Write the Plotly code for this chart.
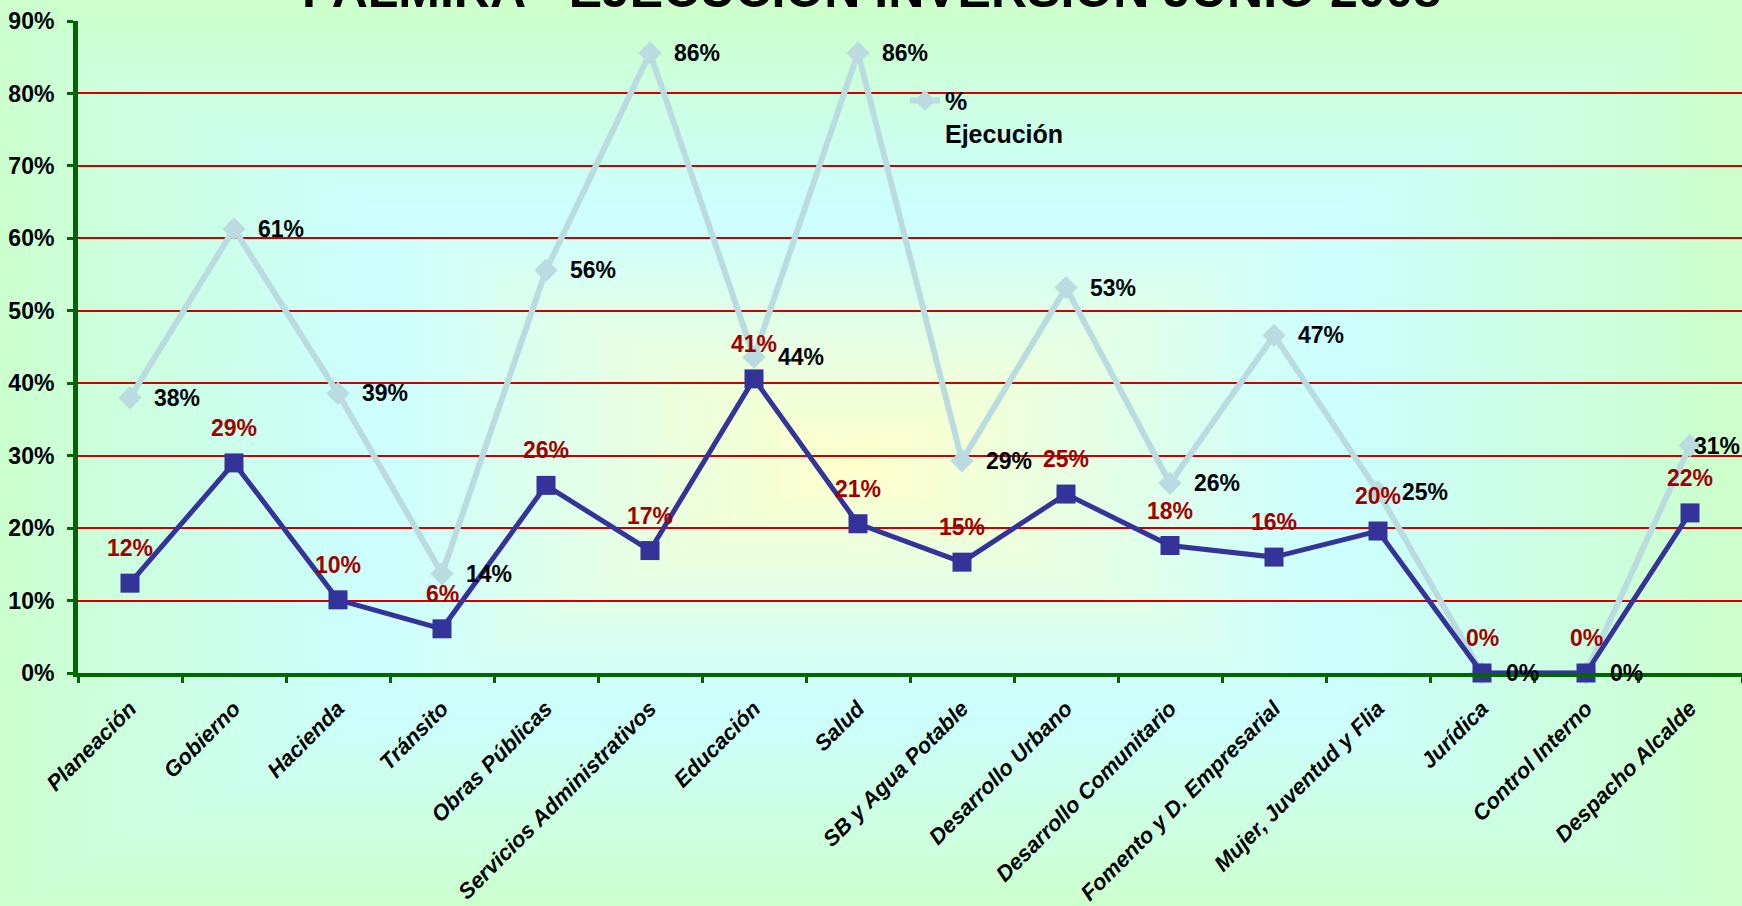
import base64, struct, zlib
import numpy as np
import plotly.graph_objects as go

categories = ["Planeación", "Gobierno", "Hacienda", "Tránsito", "Obras Públicas",
              "Servicios Administrativos", "Educación", "Salud", "SB y Agua Potable",
              "Desarrollo Urbano", "Desarrollo Comunitario", "Fomento y D. Empresarial",
              "Mujer, Juventud y Flia", "Jurídica", "Control Interno", "Despacho Alcalde"]
ejecucion = [38.0, 61.3, 38.6, 13.7, 55.6, 85.6, 43.6, 85.6, 29.3, 53.2, 26.2, 46.6, 25.0, 0.0, 0.0, 31.4]
serie_azul = [12.4, 29.0, 10.1, 6.1, 25.9, 16.9, 40.6, 20.6, 15.3, 24.7, 17.6, 16.0, 19.6, 0.0, 0.0, 22.1]
title_text = "PALMIRA - EJECUCIÓN INVERSIÓN JUNIO 2008"
legend_name = "%<br>Ejecución"

W, H = 1742, 906
ML, MR, MT, MB = 78, 0, 21, 230
PW, PH = W - ML - MR, H - MT - MB

SANS = "Liberation Sans, Arial, sans-serif"


def gradient_png(w, h):
    yy, xx = np.mgrid[0:h, 0:w].astype(float)
    cx, cy = 0.49 * w, 0.51 * h
    dx = np.abs(xx - cx) / (w / 2)
    dy = np.abs(yy - cy) / (h / 2)
    d = np.clip(np.maximum(dx, dy), 0, 1)
    yellow = np.array([255, 255, 204.0])
    cyan = np.array([204, 255, 255.0])
    green = np.array([204, 255, 204.0])
    s = 0.55
    t1 = np.clip(d / s, 0, 1)[..., None]
    t2 = np.clip((d - s) / (1 - s), 0, 1)[..., None]
    col = np.where((d < s)[..., None], yellow + (cyan - yellow) * t1, cyan + (green - cyan) * t2)
    arr = np.clip(col, 0, 255).astype(np.uint8)
    raw = b"".join(b"\x00" + arr[r].tobytes() for r in range(h))

    def chunk(tag, data):
        return struct.pack(">I", len(data)) + tag + data + struct.pack(">I", zlib.crc32(tag + data) & 0xffffffff)

    png = (b"\x89PNG\r\n\x1a\n" + chunk(b"IHDR", struct.pack(">IIBBBBB", w, h, 8, 2, 0, 0, 0))
           + chunk(b"IDAT", zlib.compress(raw, 9)) + chunk(b"IEND", b""))
    return "data:image/png;base64," + base64.b64encode(png).decode()


fig = go.Figure()
fig.add_trace(go.Scatter(
    x=categories, y=ejecucion, name=legend_name, mode="lines+markers",
    line=dict(color="#BADCE0", width=6),
    marker=dict(symbol="diamond", size=18, color="#BADCE0"),
    cliponaxis=False, showlegend=True))
fig.add_trace(go.Scatter(
    x=categories, y=serie_azul, name="Ejecución", mode="lines+markers",
    line=dict(color="#333399", width=5),
    marker=dict(symbol="square", size=19, color="#333399"),
    cliponaxis=False, showlegend=False))

annotations = []
n = len(categories)
for i, (c, v) in enumerate(zip(categories, ejecucion)):
    annotations.append(dict(x=c, y=v, xref="x", yref="y", text=f"{v:.0f}%", showarrow=False,
                            xanchor="left", yanchor="middle", xshift=(22 if i < n - 1 else 2),
                            font=dict(family=SANS, size=23, color="black", weight="bold")))
for c, v in zip(categories, serie_azul):
    annotations.append(dict(x=c, y=v, xref="x", yref="y", text=f"{v:.0f}%", showarrow=False,
                            xanchor="center", yanchor="middle", yshift=35,
                            font=dict(family=SANS, size=23, color="#A00000", weight="bold")))
annotations.append(dict(x=(871 - ML) / PW, y=(676 + 10) / PH, xref="paper", yref="paper",
                        text=title_text, showarrow=False, xanchor="center", yanchor="middle",
                        font=dict(family=SANS, size=50, color="black", weight="bold")))

fig.update_layout(
    width=W, height=H,
    margin=dict(l=ML, r=MR, t=MT, b=MB),
    paper_bgcolor="#CCFFCC", plot_bgcolor="rgba(0,0,0,0)",
    images=[dict(source=gradient_png(W // 2, H // 2), xref="paper", yref="paper",
                 x=-ML / PW, y=1 + MT / PH, sizex=W / PW, sizey=H / PH,
                 sizing="stretch", xanchor="left", yanchor="top", layer="below")],
    annotations=annotations,
    showlegend=True,
    legend=dict(x=(905 - ML) / PW, y=(676 - 78) / PH, xanchor="left", yanchor="top",
                bgcolor="rgba(0,0,0,0)", valign="top",
                font=dict(family=SANS, size=25, color="black", weight="bold")),
    xaxis=dict(type="category", range=[-0.5, 15.5], tickson="boundaries",
               tickmode="array", tickvals=categories,
               ticktext=[f"<i>{c}</i>" for c in categories],
               tickangle=-45, showgrid=False, showline=True, linecolor="#006600", linewidth=4,
               ticks="outside", ticklen=6, tickwidth=3, tickcolor="#006600",
               ticklabelstandoff=10,
               tickfont=dict(family=SANS, size=22, color="black", weight="bold")),
    yaxis=dict(range=[0, 90], dtick=10, ticksuffix="%", showgrid=True, gridcolor="#CC0000",
               gridwidth=2, zeroline=False, showline=True, linecolor="#006600", linewidth=5,
               ticks="outside", ticklen=6, tickwidth=3, tickcolor="#006600",
               ticklabelstandoff=8,
               tickfont=dict(family=SANS, size=23, color="black", weight="bold")),
)

fig.write_html("out.html", config={"displayModeBar": False},
               post_script="document.body.style.margin='0';document.body.style.background='#CCFFCC';")
